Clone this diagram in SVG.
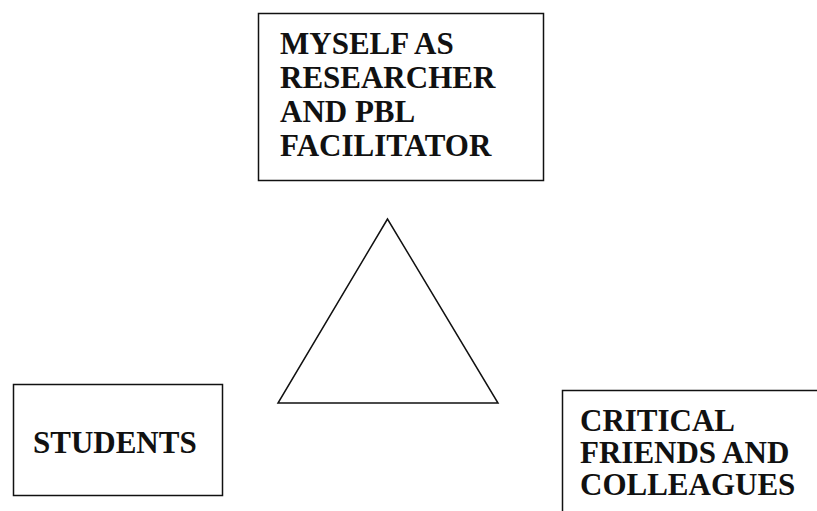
<svg xmlns="http://www.w3.org/2000/svg" width="817" height="511" viewBox="0 0 817 511">
  <style>
    .box { fill: #ffffff; stroke: #111111; stroke-width: 1.5; }
    .label { font-family: "Liberation Serif", "Times New Roman", serif; font-weight: bold; font-size: 31px; fill: #111111; }
    .tri { fill: none; stroke: #111111; stroke-width: 1.5; stroke-linejoin: miter; }
  </style>
  <rect width="817" height="511" fill="#ffffff"/>

  <g id="node-researcher">
    <rect class="box" x="258.5" y="13.5" width="285" height="167"/>
    <text class="label" x="280" y="54">MYSELF AS</text>
    <text class="label" x="280" y="88">RESEARCHER</text>
    <text class="label" x="280" y="122">AND PBL</text>
    <text class="label" x="280" y="156">FACILITATOR</text>
  </g>

  <g id="node-students">
    <rect class="box" x="13.5" y="384.5" width="209" height="111"/>
    <text class="label" x="33" y="453">STUDENTS</text>
  </g>

  <g id="node-critical-friends">
    <rect class="box" x="562.5" y="390.5" width="270" height="140"/>
    <text class="label" x="580" y="431">CRITICAL</text>
    <text class="label" x="580" y="463">FRIENDS AND</text>
    <text class="label" x="580" y="495">COLLEAGUES</text>
  </g>

  <g id="connectors">
    <polygon class="tri" points="387.5,219 278,403 498,403"/>
  </g>
</svg>
